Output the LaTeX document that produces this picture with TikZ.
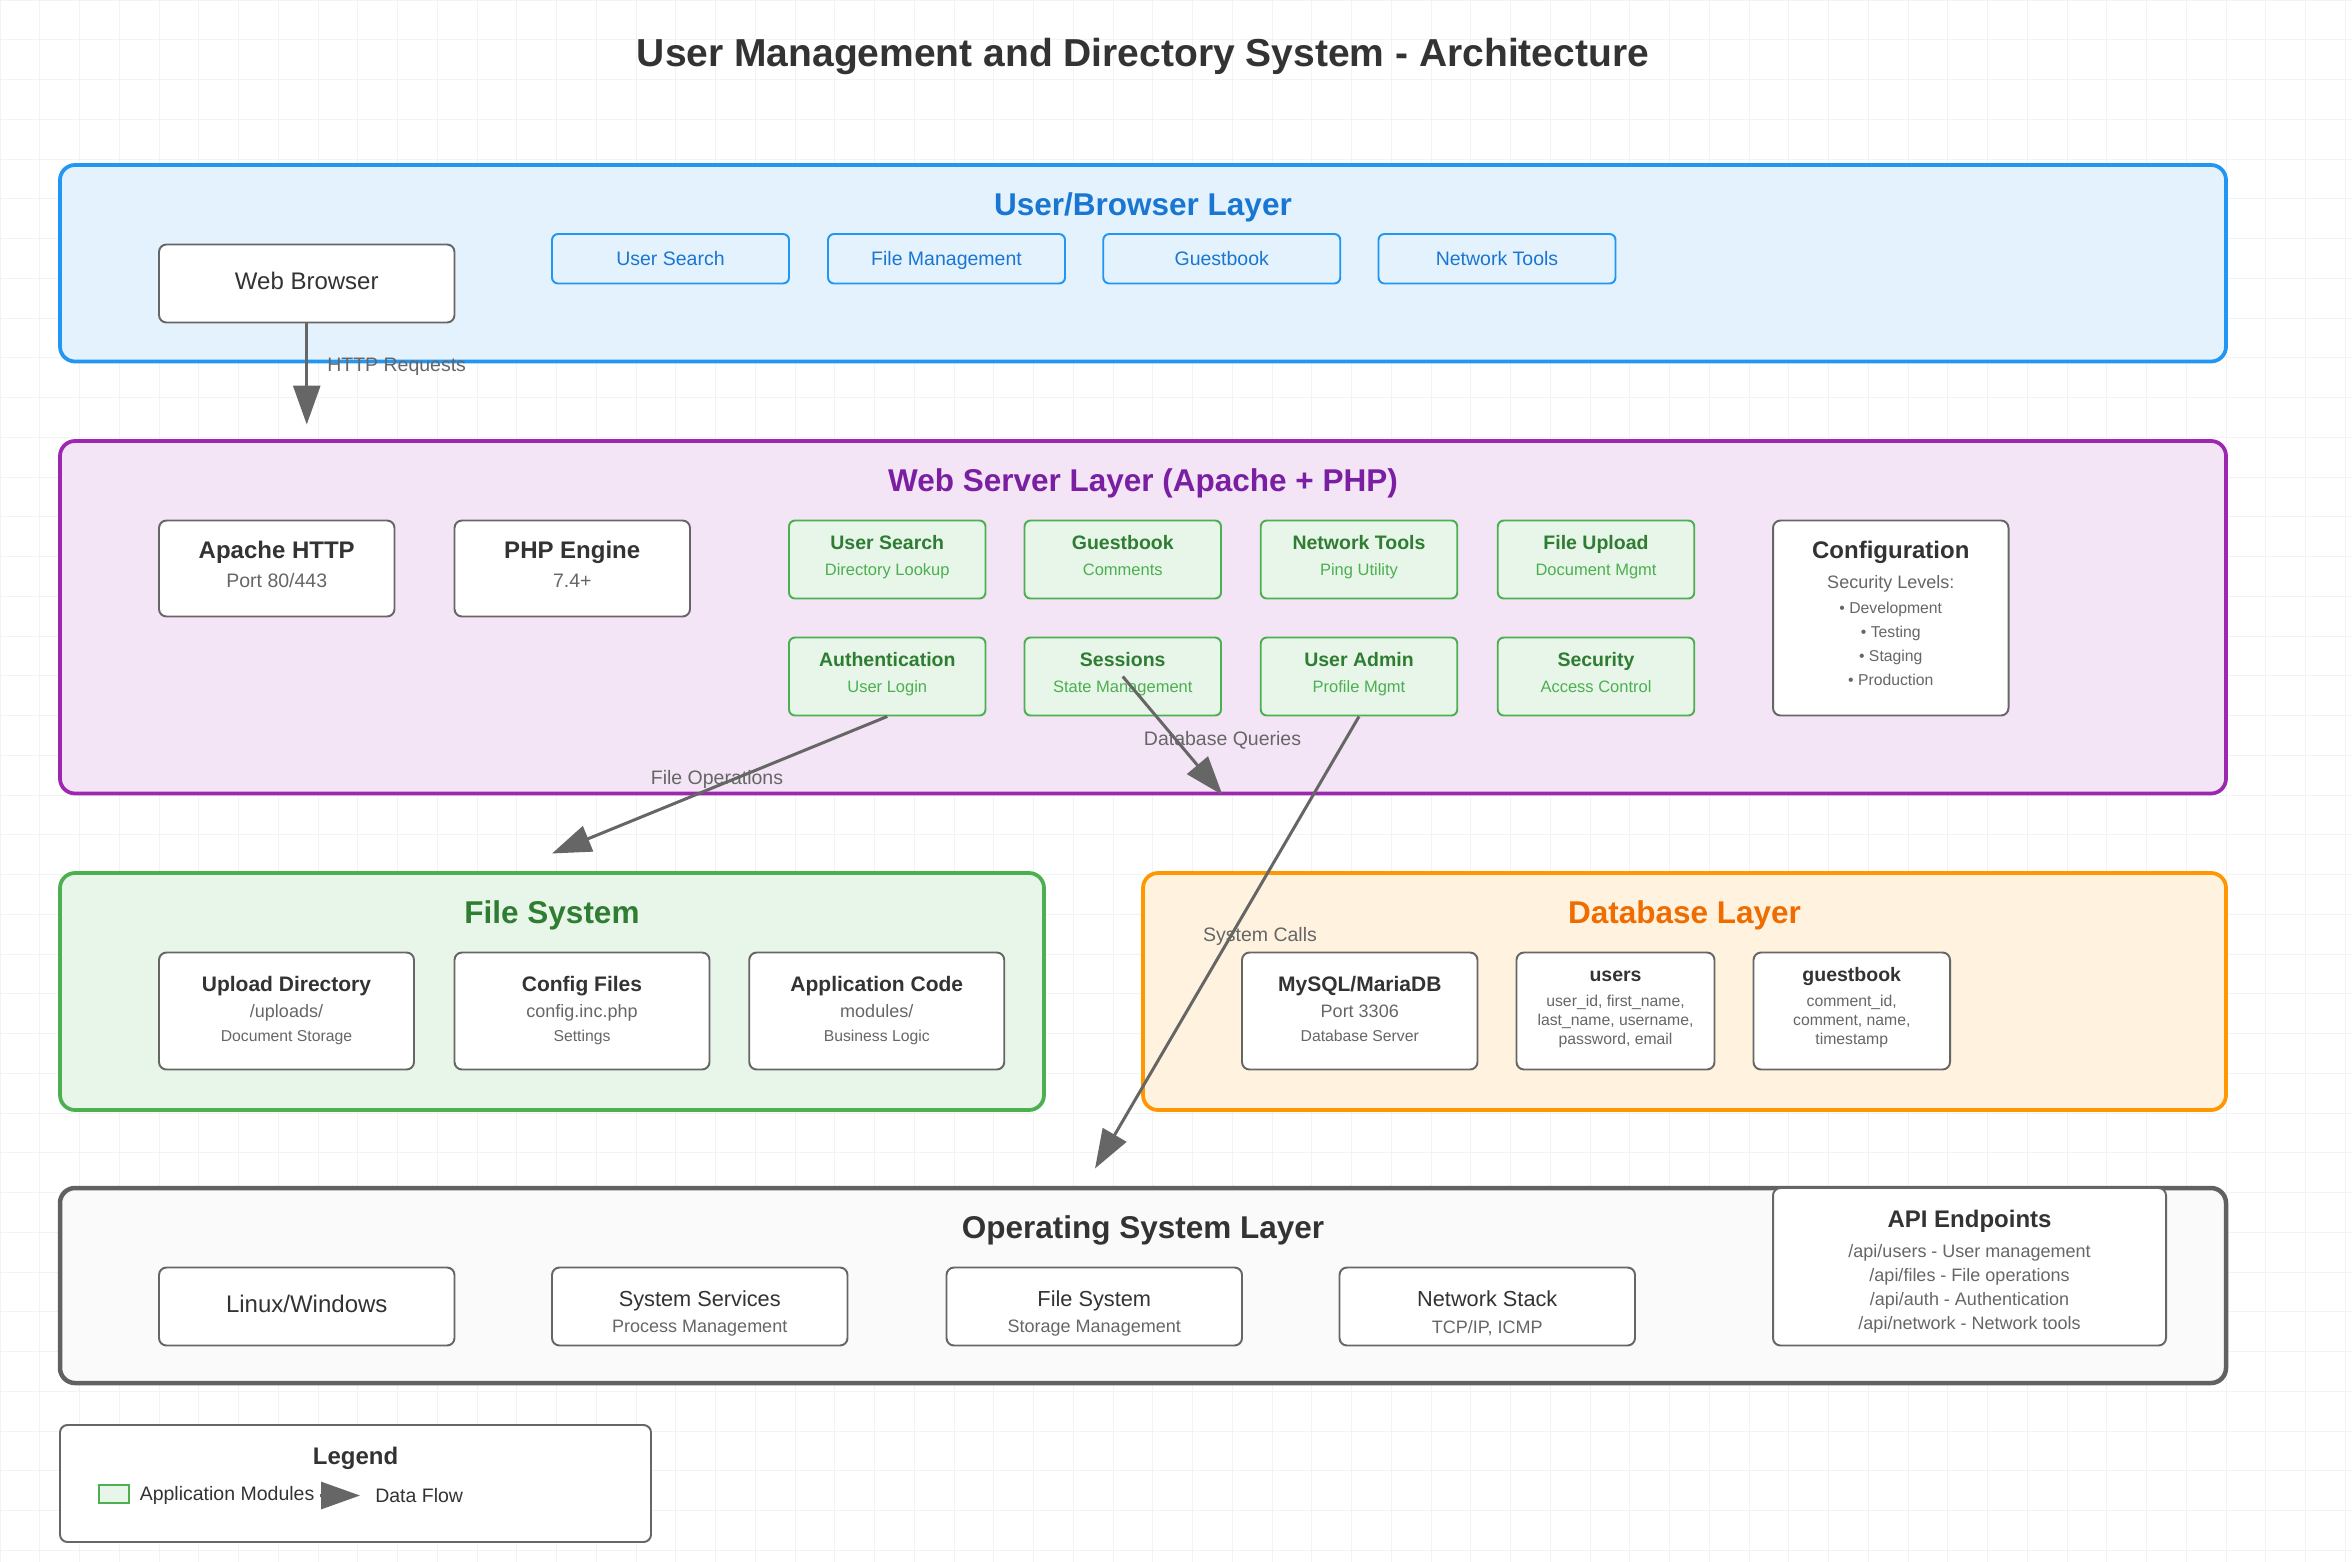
\documentclass[tikz,border=0pt]{standalone}
\usepackage{fontspec}
\setmainfont{Liberation Sans}
\usepackage{tikz}
\usetikzlibrary{arrows.meta, positioning, calc}

\definecolor{userblue}{RGB}{33, 150, 243}
\definecolor{userfill}{RGB}{227, 242, 253}
\definecolor{usertitle}{RGB}{25, 118, 210}
\definecolor{srvpurple}{RGB}{156, 39, 176}
\definecolor{srvfill}{RGB}{243, 229, 245}
\definecolor{srvtitle}{RGB}{123, 31, 162}
\definecolor{modgreen}{RGB}{76, 175, 80}
\definecolor{modfill}{RGB}{232, 245, 233}
\definecolor{modtitle}{RGB}{46, 125, 50}
\definecolor{dborange}{RGB}{255, 152, 0}
\definecolor{dbfill}{RGB}{255, 243, 224}
\definecolor{dbtitle}{RGB}{239, 108, 0}
\definecolor{osgray}{RGB}{97, 97, 97}
\definecolor{osfill}{RGB}{250, 250, 250}
\definecolor{boxgray}{RGB}{102, 102, 102}
\definecolor{textdark}{RGB}{51, 51, 51}
\definecolor{textgray}{RGB}{102, 102, 102}
\definecolor{flowgray}{RGB}{102, 102, 102}
\definecolor{gridgray}{RGB}{243, 243, 243}

\tikzset{
  deepstrut/.style={execute at end node={\rule[-#1]{0pt}{#1}}},
  layerbox/.style={rounded corners=10pt, line width=2.5pt, inner sep=0pt},
  layertitle/.style={font=\fontsize{21}{25}\selectfont\bfseries},
  whitebox/.style={draw=boxgray, fill=white, rounded corners=5pt, line width=1.3pt, inner sep=0pt, align=center, text=textgray},
  onelinebox/.style={whitebox, text=textdark, minimum width=197pt, minimum height=52pt, font=\fontsize{16}{19}\selectfont, text height=11.7pt, text depth=4.3pt},
  featurebtn/.style={draw=userblue, fill=userfill, rounded corners=4pt, line width=1.3pt, minimum width=158pt, minimum height=33pt, inner sep=0pt, text=usertitle, font=\fontsize{13}{16}\selectfont, text height=11pt, text depth=2.6pt},
  module/.style={draw=modgreen, fill=modfill, rounded corners=4pt, line width=1.3pt, minimum width=131pt, minimum height=52pt, inner sep=0pt, align=center, text=modgreen, font=\fontsize{11}{17.5}\selectfont, deepstrut=5.3pt},
  flow/.style={draw=flowgray, line width=2pt, -{Triangle[length=26pt, width=18pt]}},
  flowlabel/.style={text=flowgray, font=\fontsize{13}{16}\selectfont, inner sep=0pt, text height=9.5pt, text depth=2.7pt},
}

\begin{document}
\begin{tikzpicture}[x=1pt, y=-1pt]
  \useasboundingbox (0,0) rectangle (1568,1041);
  \fill[white] (0,0) rectangle (1568,1041);
  \draw[gridgray, line width=0.6pt, step=26.5pt] (0,0) grid (1568,1041);

  % Title
  \node[font=\fontsize{26}{30}\selectfont\bfseries, text=textdark] (title) at (762,38) {User Management and Directory System - Architecture};

  % User/Browser layer
  \node[layerbox, draw=userblue, fill=userfill, minimum width=1444pt, minimum height=131pt] (userlayer) at (762,175.5) {};
  \node[layertitle, text=usertitle] (usertitle) at (762,138) {User/Browser Layer};
  \node[onelinebox] (browser) at (204.5,189) {Web Browser};
  \node[featurebtn] (btnsearch) at (447,172.5) {User Search};
  \node[featurebtn] (btnfiles) at (631,172.5) {File Management};
  \node[featurebtn] (btnguest) at (814.5,172.5) {Guestbook};
  \node[featurebtn] (btnnet) at (998,172.5) {Network Tools};

  % Web server layer
  \node[layerbox, draw=srvpurple, fill=srvfill, minimum width=1444pt, minimum height=235pt] (srvlayer) at (762,411.5) {};
  \node[layertitle, text=srvtitle] (srvtitle) at (762,322) {Web Server Layer (Apache + PHP)};
  \node[whitebox, minimum width=157pt, minimum height=64pt, font=\fontsize{13}{19}\selectfont, deepstrut=5.6pt] (apache) at (184.5,379) {{\fontsize{16}{19}\selectfont\bfseries\color{textdark}Apache HTTP}\\Port 80/443};
  \node[whitebox, minimum width=157pt, minimum height=64pt, font=\fontsize{13}{19}\selectfont, deepstrut=5.6pt] (php) at (381.5,379) {{\fontsize{16}{19}\selectfont\bfseries\color{textdark}PHP Engine}\\7.4+};

  \node[module] (usersearch) at (591.5,373) {{\fontsize{13}{15}\selectfont\bfseries\color{modtitle}User Search}\\Directory Lookup};
  \node[module] (guestmod) at (748.5,373) {{\fontsize{13}{15}\selectfont\bfseries\color{modtitle}Guestbook}\\Comments};
  \node[module] (nettools) at (906,373) {{\fontsize{13}{15}\selectfont\bfseries\color{modtitle}Network Tools}\\Ping Utility};
  \node[module] (fileupload) at (1064,373) {{\fontsize{13}{15}\selectfont\bfseries\color{modtitle}File Upload}\\Document Mgmt};
  \node[module] (auth) at (591.5,451) {{\fontsize{13}{15}\selectfont\bfseries\color{modtitle}Authentication}\\User Login};
  \node[module] (sessions) at (748.5,451) {{\fontsize{13}{15}\selectfont\bfseries\color{modtitle}Sessions}\\State Management};
  \node[module] (useradmin) at (906,451) {{\fontsize{13}{15}\selectfont\bfseries\color{modtitle}User Admin}\\Profile Mgmt};
  \node[module] (security) at (1064,451) {{\fontsize{13}{15}\selectfont\bfseries\color{modtitle}Security}\\Access Control};

  \node[whitebox, minimum width=157pt, minimum height=130pt, font=\fontsize{10.5}{16}\selectfont, deepstrut=6.3pt] (config) at (1260.5,412) {{\fontsize{16}{19}\selectfont\bfseries\color{textdark}Configuration}\\[3.6pt]{\fontsize{12}{14}\selectfont Security Levels:}\\[0.7pt]• Development\\• Testing\\• Staging\\• Production};

  % File system
  \node[layerbox, draw=modgreen, fill=modfill, minimum width=656pt, minimum height=158pt] (fslayer) at (368,661) {};
  \node[layertitle, text=modtitle] (fstitle) at (368,610) {File System};
  \node[whitebox, minimum width=170pt, minimum height=78pt, font=\fontsize{10.5}{16}\selectfont, deepstrut=3pt] (uploaddir) at (191,674) {{\fontsize{14}{17}\selectfont\bfseries\color{textdark}Upload Directory}\\[1.5pt]{\fontsize{12}{14}\selectfont /uploads/}\\Document Storage};
  \node[whitebox, minimum width=170pt, minimum height=78pt, font=\fontsize{10.5}{16}\selectfont, deepstrut=3pt] (configfiles) at (388,674) {{\fontsize{14}{17}\selectfont\bfseries\color{textdark}Config Files}\\[1.5pt]{\fontsize{12}{14}\selectfont config.inc.php}\\Settings};
  \node[whitebox, minimum width=170pt, minimum height=78pt, font=\fontsize{10.5}{16}\selectfont, deepstrut=3pt] (appcode) at (584.5,674) {{\fontsize{14}{17}\selectfont\bfseries\color{textdark}Application Code}\\[1.5pt]{\fontsize{12}{14}\selectfont modules/}\\Business Logic};

  % Database layer
  \node[layerbox, draw=dborange, fill=dbfill, minimum width=722pt, minimum height=158pt] (dblayer) at (1123,661) {};
  \node[layertitle, text=dbtitle] (dbtitle) at (1123,610) {Database Layer};
  \node[whitebox, minimum width=157pt, minimum height=78pt, font=\fontsize{10.5}{16}\selectfont, deepstrut=3pt] (mysql) at (906.5,674) {{\fontsize{14}{17}\selectfont\bfseries\color{textdark}MySQL/MariaDB}\\[1.5pt]{\fontsize{12}{14}\selectfont Port 3306}\\Database Server};
  \node[whitebox, minimum width=132pt, minimum height=78pt, font=\fontsize{10.5}{12.5}\selectfont, deepstrut=6.8pt] (userstable) at (1077,674) {{\rule{0pt}{9.5pt}\fontsize{13}{15}\selectfont\bfseries\color{textdark}users}\\[4pt]user\_id, first\_name,\\last\_name, username,\\password, email};
  \node[whitebox, minimum width=131pt, minimum height=78pt, font=\fontsize{10.5}{12.5}\selectfont, deepstrut=6.8pt] (guesttable) at (1234.5,674) {{\rule{0pt}{9.5pt}\fontsize{13}{15}\selectfont\bfseries\color{textdark}guestbook}\\[4pt]comment\_id,\\comment, name,\\timestamp};

  % Operating system layer
  \node[layerbox, draw=osgray, fill=osfill, line width=3pt, minimum width=1444pt, minimum height=130pt] (oslayer) at (762,857) {};
  \node[layertitle, text=textdark] (ostitle) at (762,820) {Operating System Layer};
  \node[onelinebox] (linuxwin) at (204.5,871) {Linux/Windows};
  \node[whitebox, minimum width=197pt, minimum height=52pt, font=\fontsize{12}{17.5}\selectfont, deepstrut=2.1pt] (services) at (466.5,871) {{\rule{0pt}{20pt}\fontsize{14.5}{17}\selectfont\color{textdark}System Services}\\Process Management};
  \node[whitebox, minimum width=197pt, minimum height=52pt, font=\fontsize{12}{17.5}\selectfont, deepstrut=2.1pt] (osfiles) at (729.5,871) {{\rule{0pt}{20pt}\fontsize{14.5}{17}\selectfont\color{textdark}File System}\\Storage Management};
  \node[whitebox, minimum width=197pt, minimum height=52pt, font=\fontsize{12}{17.5}\selectfont, deepstrut=2.1pt] (netstack) at (991.5,871) {{\rule{0pt}{20pt}\fontsize{14.5}{17}\selectfont\color{textdark}Network Stack}\\TCP/IP, ICMP};
  \node[whitebox, minimum width=262pt, minimum height=105pt, font=\fontsize{12}{16}\selectfont, deepstrut=2pt] (api) at (1313,844.5) {{\rule{0pt}{18pt}\fontsize{16}{19}\selectfont\bfseries\color{textdark}API Endpoints}\\[3.6pt]/api/users - User management\\/api/files - File operations\\/api/auth - Authentication\\/api/network - Network tools};

  % Legend
  \node[whitebox, minimum width=394pt, minimum height=78pt] (legendbox) at (237,989) {};
  \node[font=\fontsize{16}{19}\selectfont\bfseries, text=textdark] (legendtitle) at (237,972) {Legend};
  \node[draw=modgreen, fill=modfill, line width=1pt, minimum width=20pt, minimum height=12pt, inner sep=0pt] (legendmod) at (76,996) {};
  \node[anchor=west, inner sep=0pt, text=textdark, font=\fontsize{13}{15}\selectfont] (legendmodtext) at (93,997) {Application Modules};
  \coordinate (legendflowstart) at (213,997);
  \coordinate (legendflowend) at (240,997);
  \node[anchor=west, inner sep=0pt, text=textdark, font=\fontsize{13}{15}\selectfont] (legendflowtext) at (250,997) {Data Flow};

  % Flow labels
  \node[flowlabel, anchor=west] (httplabel) at (218,244.5) {HTTP Requests};
  \node[flowlabel] (fileopslabel) at (478,519.5) {File Operations};
  \node[flowlabel] (dbqlabel) at (815,493.5) {Database Queries};
  \node[flowlabel] (syscalllabel) at (840,624.5) {System Calls};

  % Flows
  \coordinate (httpend) at (204.5,283);
  \coordinate (fileopsend) at (368,569);
  \coordinate (dbqend) at (815,530);
  \coordinate (syscallend) at (730,779);
  \draw[flow] (browser.south) -- (httpend);
  \draw[flow] (auth.south) -- (fileopsend);
  \draw[flow] (sessions.center) -- (dbqend);
  \draw[flow] (useradmin.south) -- (syscallend);
  \draw[flow] (legendflowstart) -- (legendflowend);
\end{tikzpicture}
\end{document}
